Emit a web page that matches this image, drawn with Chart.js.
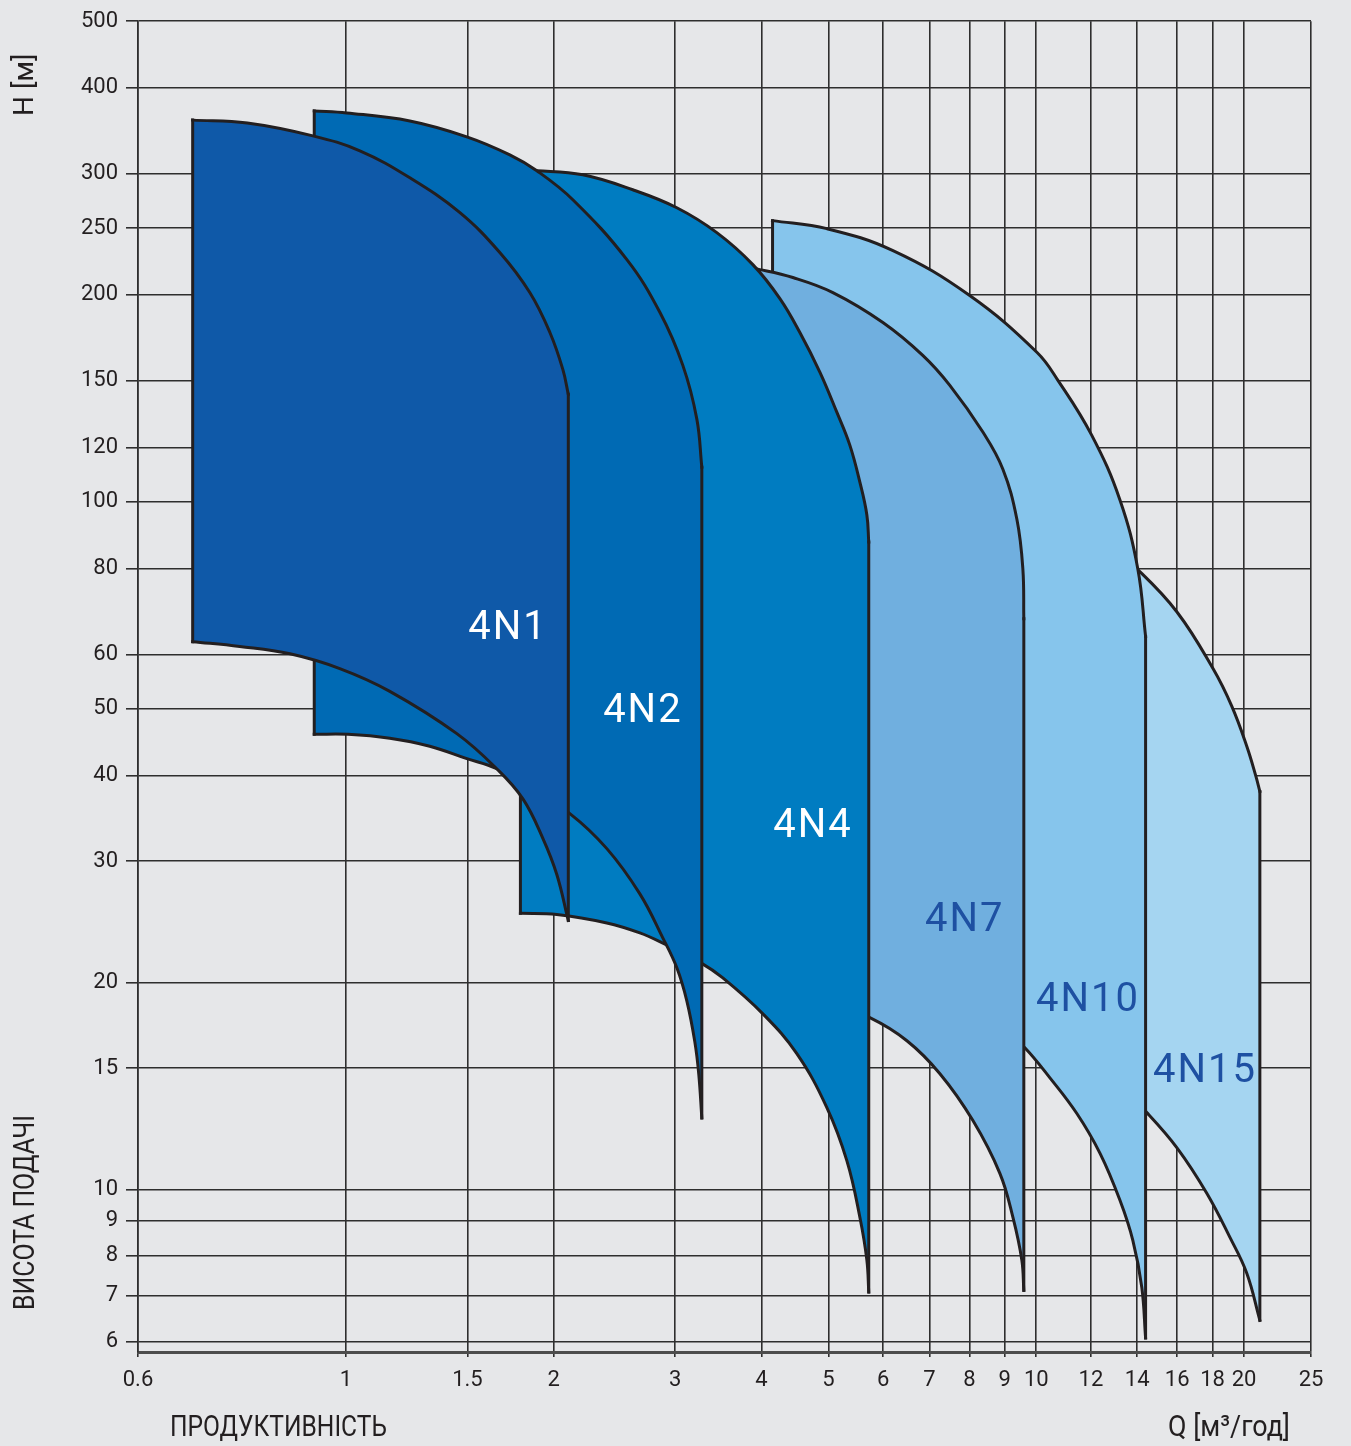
<!DOCTYPE html>
<html>
<head>
<meta charset="utf-8">
<script src="https://cdn.jsdelivr.net/npm/chart.js@4.4.1/dist/chart.umd.min.js"></script>
<style>
  html, body { margin: 0; padding: 0; background: #e6e7e9; }
  #wrap { width: 1351px; height: 1446px; position: relative; }
</style>
</head>
<body>
<div id="wrap"><canvas id="chart"></canvas></div>
<script>
// pump ranges, Q in m3/h and H in m
// top = max-stage curve, bottom = min-stage curve; the vertical edges join their ends
const models = ['4N1', '4N2', '4N4', '4N7', '4N10', '4N15'];

const top4N1 = [[0.6, 359], [0.72, 355.6], [0.896, 340.6], [1.048, 323.9], [1.238, 295.9], [1.463, 263.3], [1.671, 230.4], [1.847, 201.5], [1.975, 176.3], [2.062, 155.8], [2.1, 143.3]];
const bot4N1 = [[0.6, 62.6], [0.702, 61.6], [0.83, 60.1], [0.98, 57.2], [1.158, 53.0], [1.448, 46.0], [1.654, 40.9], [1.804, 37.0], [1.929, 32.4], [2.021, 28.7], [2.1, 24.6]];

const top4N2 = [[0.9, 370.2], [1.003, 367.7], [1.238, 358], [1.497, 339.5], [1.728, 319.6], [1.891, 303], [2.132, 275], [2.553, 225], [2.851, 188.5], [3.077, 157.9], [3.224, 131.9], [3.278, 112.3]];
const bot4N2 = [[0.9, 45.9], [1.007, 45.9], [1.158, 45.3], [1.323, 44.1], [1.497, 42.3], [1.654, 40.9], [1.847, 38.3], [2.111, 35.2], [2.388, 31.3], [2.666, 26.9], [2.879, 23.2], [3.016, 21.0], [3.118, 18.8], [3.202, 16.4], [3.245, 14.7], [3.278, 12.7]];

const top4N4 = [[1.79, 303], [1.891, 303], [2.204, 298.9], [2.604, 284.3], [3.016, 267.7], [3.446, 246.3], [3.886, 221.3], [4.253, 197.5], [4.546, 176.3], [4.861, 154.3], [5.142, 135], [5.37, 120.9], [5.553, 106.8], [5.684, 95.7], [5.72, 87.4]];
const bot4N4 = [[1.79, 25.2], [2.021, 25.1], [2.388, 24.4], [2.666, 23.6], [2.879, 22.8], [3.268, 21.35], [3.516, 20.3], [4.018, 18.0], [4.5, 15.75], [4.974, 13.15], [5.318, 11.0], [5.553, 9.11], [5.684, 7.89], [5.72, 7.09]];

const top4N7 = [[3.8, 219], [3.978, 217.6], [4.441, 211.9], [5.075, 201.5], [5.996, 182.3], [6.849, 163.3], [7.496, 147.7], [8.369, 126.3], [8.944, 111.6], [9.373, 94.4], [9.563, 79.9], [9.594, 67.6]];
const bot4N7 = [[3.8, 20.6], [4.546, 19.6], [5.741, 17.77], [6.496, 16.45], [7.252, 14.73], [8.092, 12.6], [8.857, 10.55], [9.25, 9.11], [9.53, 7.89], [9.594, 7.13]];

const top4N10 = [[4.15, 256.4], [4.974, 249.6], [6.201, 231.9], [8.01, 199.5], [10.02, 165], [10.75, 150.2], [12.03, 125], [13.22, 100.6], [14.03, 79.9], [14.4, 63.7]];
const bot4N10 = [[4.15, 24.2], [5.37, 23.0], [6.345, 21.5], [7.75, 19.1], [8.857, 17.35], [9.627, 16.07], [10.46, 14.54], [11.45, 12.89], [12.37, 11.28], [13.22, 9.64], [13.8, 8.43], [14.22, 7.2], [14.4, 6.08]];

const top4N15 = [[12.79, 86], [13.99, 79.9], [15.98, 69.2], [18.03, 57.2], [19.2, 50.4], [20.18, 44.1], [20.8, 39.9], [21.08, 37.9]];
const bot4N15 = [[12.79, 14.63], [14.46, 12.93], [15.98, 11.5], [17.66, 9.87], [19.07, 8.52], [20.18, 7.55], [21.08, 6.45]];

// where the model names sit (Q, H)
const labelQ = [1.717, 2.693, 4.748, 7.88, 11.88, 17.55];
const labelH = [65.2, 49.4, 33.7, 24.6, 18.8, 14.8];

// axis ticks
const xTickValues = [0.5, 1, 1.5, 2, 3, 4, 5, 6, 7, 8, 9, 10, 12, 14, 16, 18, 20, 25];
const xTickLabels = ['0.6', '1', '1.5', '2', '3', '4', '5', '6', '7', '8', '9', '10', '12', '14', '16', '18', '20', '25'];
const yTickValues = [6, 7, 8, 9, 10, 15, 20, 30, 40, 50, 60, 80, 100, 120, 150, 200, 250, 300, 400, 500];

const fills = ['#0f59a8', '#006ab4', '#007cc1', '#70afdf', '#86c5ec', '#a5d5f1'];
const labelColors = ['#ffffff', '#ffffff', '#ffffff', '#1e50a2', '#1e50a2', '#1e50a2'];

const tops = [top4N1, top4N2, top4N4, top4N7, top4N10, top4N15];
const bottoms = [bot4N1, bot4N2, bot4N4, bot4N7, bot4N10, bot4N15];

const toPoints = arr => arr.map(p => ({x: p[0], y: p[1]}));
const outline = '#231f20';

function lineSet(label, pts, extra) {
  return Object.assign({
    label: label,
    data: pts,
    showLine: true,
    borderColor: outline,
    borderWidth: 3,
    borderCapStyle: 'square',
    pointRadius: 0,
    fill: false
  }, extra || {});
}

// dataset 0 is drawn last, so 4N1 ends up in front;
// per model: left edge, right edge, bottom curve, top curve (filled down to the bottom curve)
const datasets = [];
models.forEach((name, i) => {
  const t = tops[i], b = bottoms[i];
  const tl = t[0], tr = t[t.length - 1], bl = b[0], br = b[b.length - 1];
  datasets.push(lineSet(name + ' left', toPoints([bl, tl])));
  datasets.push(lineSet(name + ' right', toPoints([tr, br])));
  datasets.push(lineSet(name + ' min', toPoints(b), {tension: 0.4}));
  datasets.push(lineSet(name, toPoints(t), {tension: 0.4, backgroundColor: fills[i], fill: '-1'}));
});

const textFont = "Roboto, 'DejaVu Sans', sans-serif";

const modelLabels = {
  id: 'modelLabels',
  afterDatasetsDraw(chart) {
    const ctx = chart.ctx;
    const xs = chart.scales.x, ys = chart.scales.y;
    ctx.save();
    ctx.font = '40px ' + textFont;
    ctx.letterSpacing = '2px';
    ctx.textAlign = 'center';
    ctx.textBaseline = 'middle';
    models.forEach((name, i) => {
      ctx.fillStyle = labelColors[i];
      ctx.fillText(name, xs.getPixelForValue(labelQ[i]), ys.getPixelForValue(labelH[i]));
    });
    ctx.restore();
  }
};

const axisTitles = {
  id: 'axisTitles',
  afterDraw(chart) {
    const ctx = chart.ctx;
    const dpr = chart.currentDevicePixelRatio;
    ctx.save();
    ctx.fillStyle = outline;
    ctx.textBaseline = 'alphabetic';

    ctx.font = '28px ' + textFont;
    ctx.textAlign = 'left';
    ctx.translate(33, 116);
    ctx.rotate(-Math.PI / 2);
    ctx.fillText('H [м]', 0, 0);
    ctx.setTransform(dpr, 0, 0, dpr, 0, 0);

    ctx.font = '30px ' + textFont;
    ctx.translate(34, 1310);
    ctx.rotate(-Math.PI / 2);
    ctx.fillText('ВИСОТА ПОДАЧІ', 0, 0, 195);
    ctx.setTransform(dpr, 0, 0, dpr, 0, 0);

    ctx.fillText('ПРОДУКТИВНІСТЬ', 170, 1436, 217);
    ctx.textAlign = 'right';
    ctx.fillText('Q [м³/год]', 1290, 1436, 122);
    ctx.restore();
  }
};

new Chart(document.getElementById('chart'), {
  type: 'scatter',
  data: { datasets: datasets },
  options: {
    responsive: true,
    maintainAspectRatio: false,
    animation: false,
    events: [],
    layout: { padding: { top: 18, right: 40, bottom: 0, left: 0 } },
    plugins: {
      legend: { display: false },
      tooltip: { enabled: false }
    },
    scales: {
      x: {
        type: 'logarithmic',
        min: 0.5,
        max: 25,
        afterFit: s => { s.height = 94; },
        afterBuildTicks: s => { s.ticks = xTickValues.map(v => ({value: v})); },
        grid: { color: '#2e2e2e', lineWidth: 1.6, tickLength: 5 },
        border: { color: '#4d4d4d', width: 3 },
        ticks: {
          autoSkip: false,
          maxRotation: 0,
          padding: 10,
          color: outline,
          font: { family: textFont, size: 22 },
          callback: v => {
            const i = xTickValues.indexOf(v);
            return i >= 0 ? xTickLabels[i] : '';
          }
        }
      },
      y: {
        type: 'logarithmic',
        min: 5.8,
        max: 500,
        afterFit: s => { s.width = 138; },
        afterBuildTicks: s => { s.ticks = yTickValues.map(v => ({value: v})); },
        grid: { color: '#2e2e2e', lineWidth: 1.6, tickLength: 12 },
        border: { color: '#2e2e2e', width: 1.6 },
        ticks: {
          autoSkip: false,
          padding: 8,
          color: outline,
          font: { family: textFont, size: 22 },
          callback: v => String(v)
        }
      }
    }
  },
  plugins: [modelLabels, axisTitles]
});
</script>
</body>
</html>
